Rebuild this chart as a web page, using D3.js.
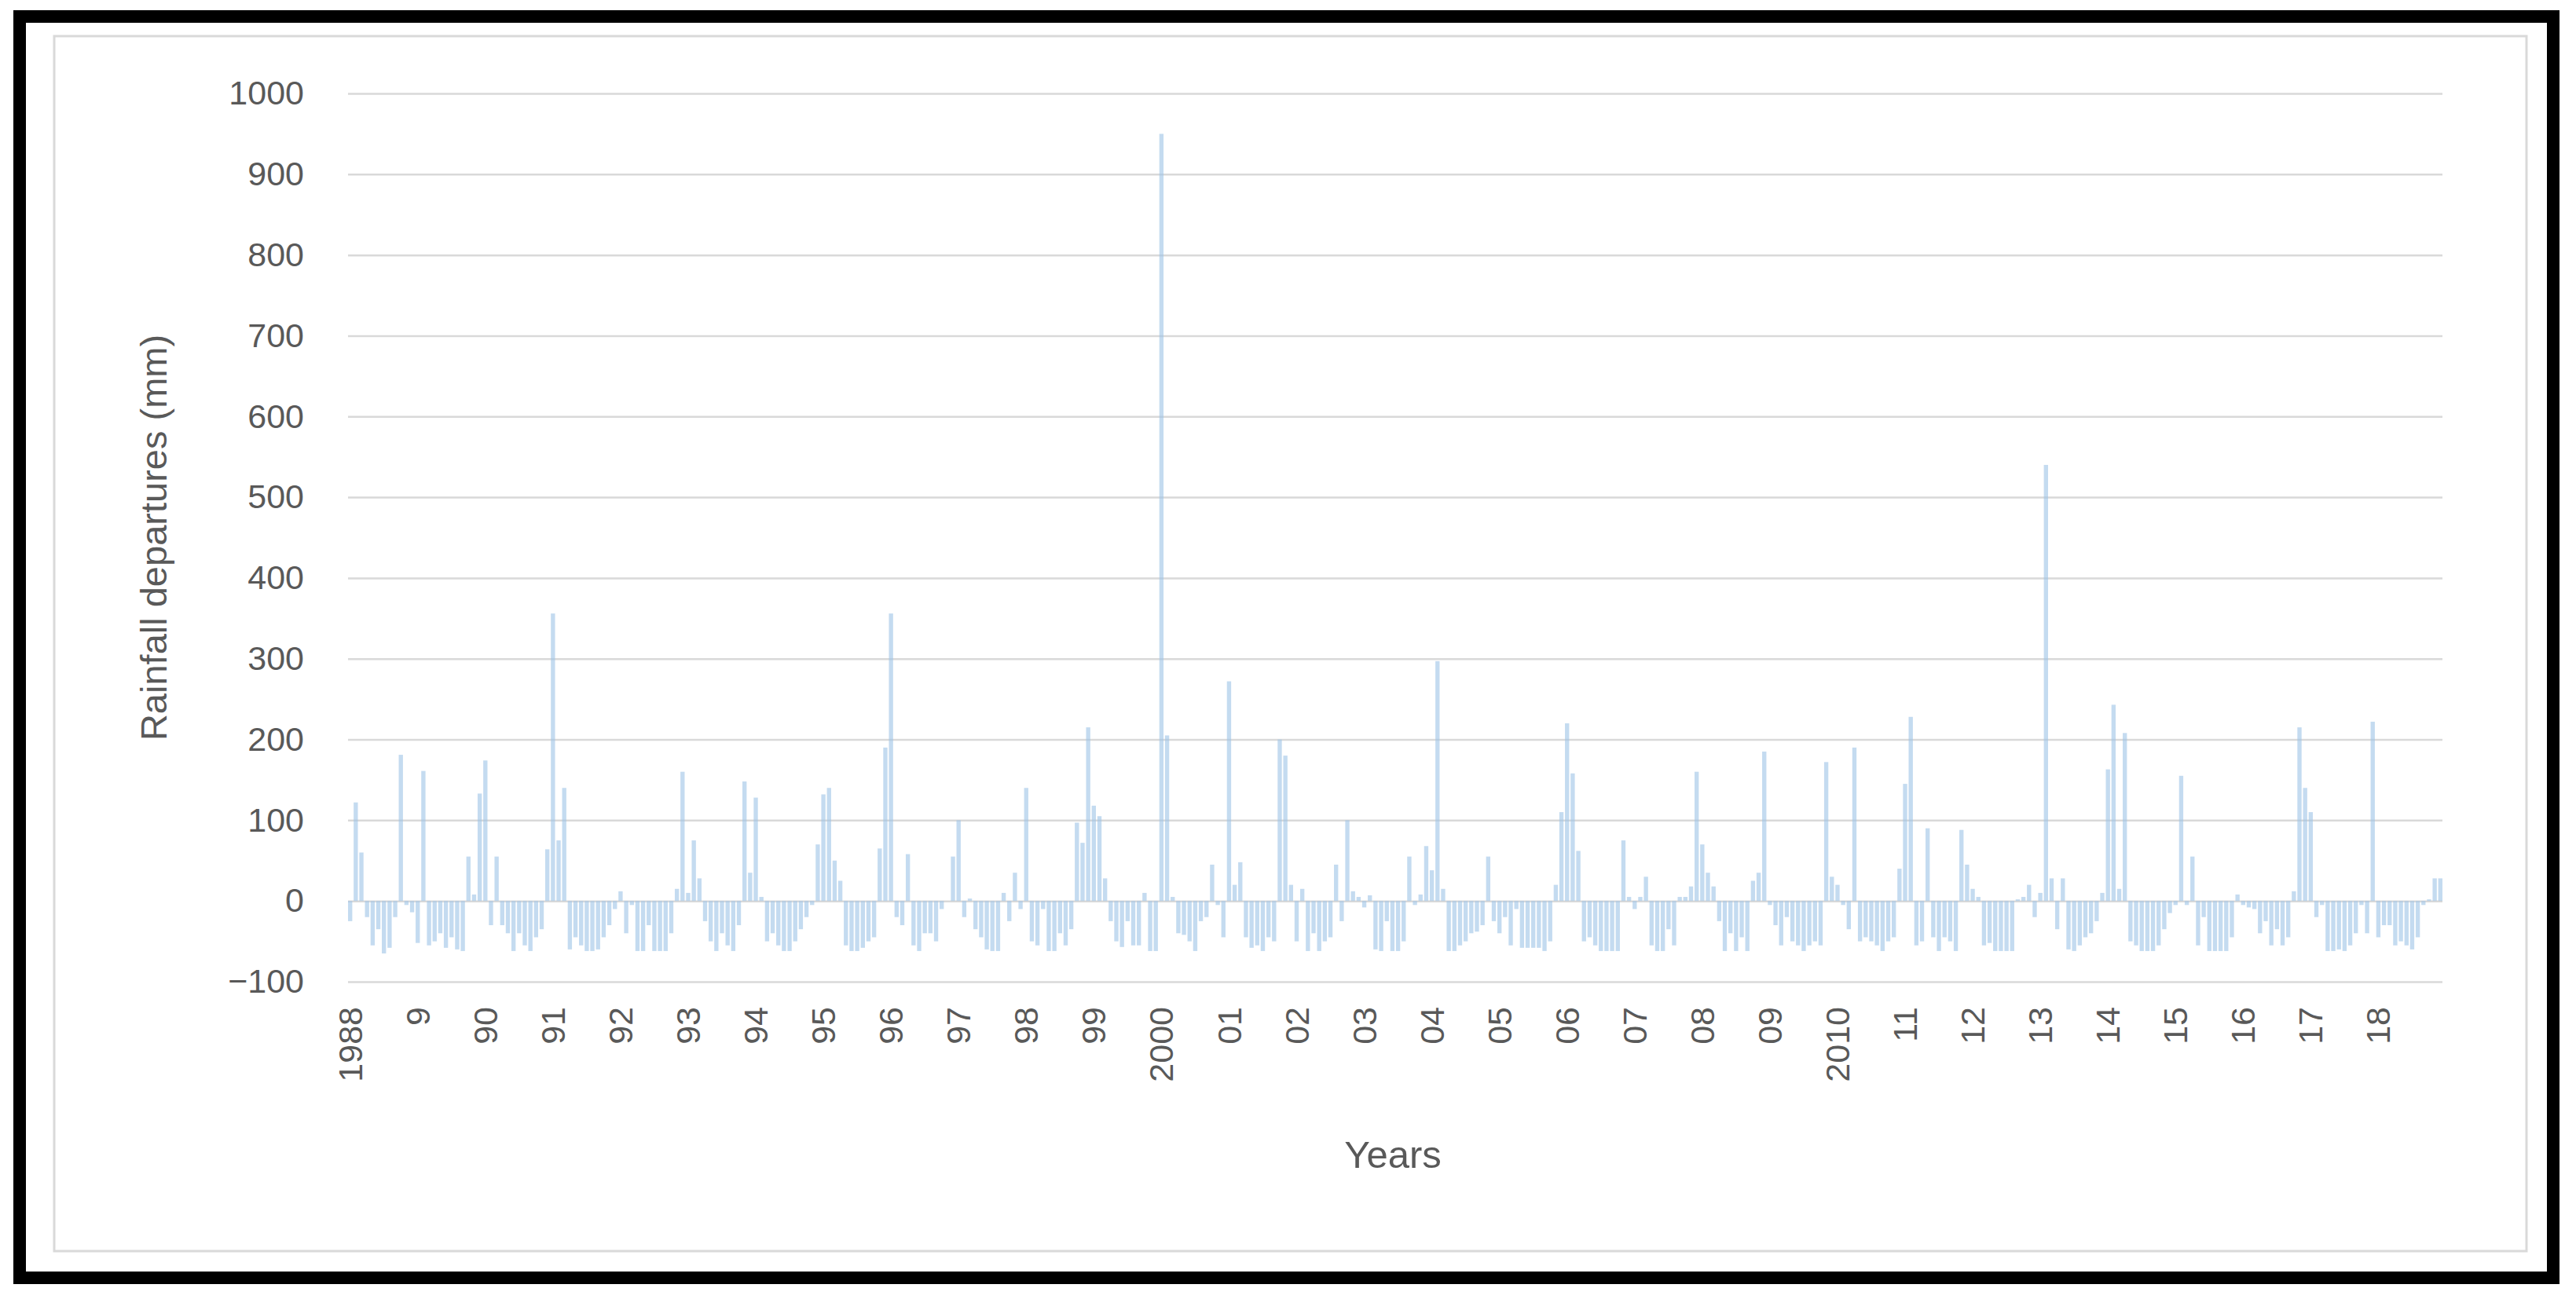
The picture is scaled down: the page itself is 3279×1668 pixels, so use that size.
<!DOCTYPE html>
<html>
<head>
<meta charset="utf-8">
<script src="https://cdn.jsdelivr.net/npm/d3@7"></script>
<style>
  body { margin: 0; background: #fff; }
  svg text { font-family: "Liberation Sans", "DejaVu Sans", sans-serif; fill: #595959; }
</style>
</head>
<body>
<div id="chart"></div>
<script>
// tick labels, one per year (Jan)
const yearLabels = ['1988','9','90','91','92','93','94','95','96','97','98','99','2000',
  '01','02','03','04','05','06','07','08','09','2010','11','12','13','14','15','16','17','18'];

// monthly rainfall departures (mm), one row per year
const departures = [
  [-25,122,60,-20,-55,-35,-65,-58,-20,181,-5,-14],
  [-52,161,-55,-50,-40,-58,-45,-60,-62,55,8,133],
  [174,-30,55,-30,-40,-62,-40,-55,-62,-45,-35,64],
  [356,75,140,-60,-45,-55,-62,-62,-60,-45,-30,-10],
  [12,-40,-5,-62,-62,-30,-62,-62,-62,-40,15,160],
  [10,75,28,-25,-50,-62,-40,-55,-62,-30,148,35],
  [128,5,-50,-40,-55,-62,-62,-50,-35,-20,-5,70],
  [132,140,50,25,-55,-62,-62,-58,-50,-45,65,190],
  [356,-20,-30,58,-55,-62,-40,-40,-50,-10,0,55],
  [100,-20,3,-35,-45,-60,-62,-62,10,-25,35,-10],
  [140,-50,-55,-10,-62,-62,-40,-55,-35,97,72,215],
  [118,105,28,-25,-50,-57,-25,-55,-55,10,-62,-62],
  [950,205,5,-40,-42,-50,-62,-25,-20,45,-5,-45],
  [272,20,48,-45,-58,-55,-62,-45,-50,200,180,20],
  [-50,15,-62,-40,-62,-50,-45,45,-25,100,12,5],
  [-8,7,-60,-62,-25,-62,-62,-50,55,-5,8,68],
  [38,297,15,-62,-62,-55,-50,-40,-38,-30,55,-25],
  [-40,-20,-55,-10,-58,-58,-58,-58,-62,-50,20,110],
  [220,158,62,-50,-45,-55,-62,-62,-62,-62,75,5],
  [-10,5,30,-55,-62,-62,-35,-55,5,5,18,160],
  [70,35,18,-25,-62,-40,-62,-45,-62,25,35,185],
  [-5,-30,-55,-20,-50,-55,-62,-55,-50,-55,172,30],
  [20,-5,-35,190,-50,-45,-50,-55,-62,-50,-45,40],
  [145,228,-55,-50,90,-45,-62,-45,-50,-62,88,45],
  [15,5,-55,-52,-62,-62,-62,-62,2,5,20,-20],
  [10,540,28,-35,28,-60,-62,-55,-45,-40,-25,10],
  [163,243,15,208,-50,-55,-62,-62,-62,-55,-35,-15],
  [-5,155,-5,55,-55,-20,-62,-62,-62,-62,-45,8],
  [-5,-8,-10,-40,-25,-55,-35,-55,-45,12,215,140],
  [110,-20,-5,-62,-62,-60,-62,-55,-40,-5,-40,222],
  [-45,-30,-30,-55,-50,-55,-60,-45,-5,2,28,28]
];

const yTicks = d3.range(-100, 1001, 100);

const W = 3279, H = 1668;
const plot = { left: 443, right: 3109, top: 119, bottom: 1250 };

const values = departures.flat();
const svg = d3.select('#chart').append('svg')
  .attr('width', W).attr('height', H);

// frame
svg.append('rect').attr('x', 69).attr('y', 46).attr('width', 3147).attr('height', 1547)
  .attr('fill', '#fff').attr('stroke', '#d9d9d9').attr('stroke-width', 3);
svg.append('rect').attr('x', 25).attr('y', 21).attr('width', 3225).attr('height', 1606)
  .attr('fill', 'none').attr('stroke', '#000').attr('stroke-width', 16);

const x = d3.scaleBand()
  .domain(d3.range(values.length))
  .range([plot.left, plot.right])
  .paddingInner(0.25);

const y = d3.scaleLinear().domain([-100, 1000]).range([plot.bottom, plot.top]);

// gridlines + y labels
const yAxis = svg.append('g')
  .attr('transform', `translate(${plot.left},0)`)
  .call(d3.axisLeft(y).tickValues(yTicks).tickFormat(d3.format('d'))
    .tickSize(-(plot.right - plot.left)).tickPadding(56));
yAxis.select('.domain').remove();
yAxis.selectAll('.tick line').attr('stroke', '#d9d9d9').attr('stroke-width', 2.5);
yAxis.selectAll('.tick text').style('font-size', '43px').attr('fill', '#595959');

// bars
svg.append('g').selectAll('rect')
  .data(values)
  .enter()
  .append('rect')
  .attr('x', (d, i) => x(i))
  .attr('width', x.bandwidth())
  .attr('y', d => y(Math.max(0, d)))
  .attr('height', d => Math.abs(y(d) - y(0)))
  .attr('fill', '#9dc3e6')
  .attr('opacity', 0.6);

// x labels at each January
const xAxis = svg.append('g')
  .attr('transform', `translate(0,${plot.bottom})`)
  .call(d3.axisBottom(x)
    .tickValues(d3.range(0, values.length, 12))
    .tickFormat(i => yearLabels[i / 12])
    .tickSize(0));
xAxis.select('.domain').remove();
xAxis.selectAll('.tick text')
  .style('font-size', '43px')
  .attr('fill', '#595959')
  .attr('transform', 'rotate(-90)')
  .attr('text-anchor', 'end')
  .attr('x', -32)
  .attr('y', 0)
  .attr('dy', '0.35em');

// axis titles
svg.append('text')
  .attr('transform', `translate(212,${(plot.top + plot.bottom) / 2}) rotate(-90)`)
  .attr('text-anchor', 'middle')
  .style('font-size', '47px')
  .text('Rainfall departures (mm)');

svg.append('text')
  .attr('x', 1773).attr('y', 1487)
  .attr('text-anchor', 'middle')
  .style('font-size', '49px')
  .text('Years');
</script>
</body>
</html>
